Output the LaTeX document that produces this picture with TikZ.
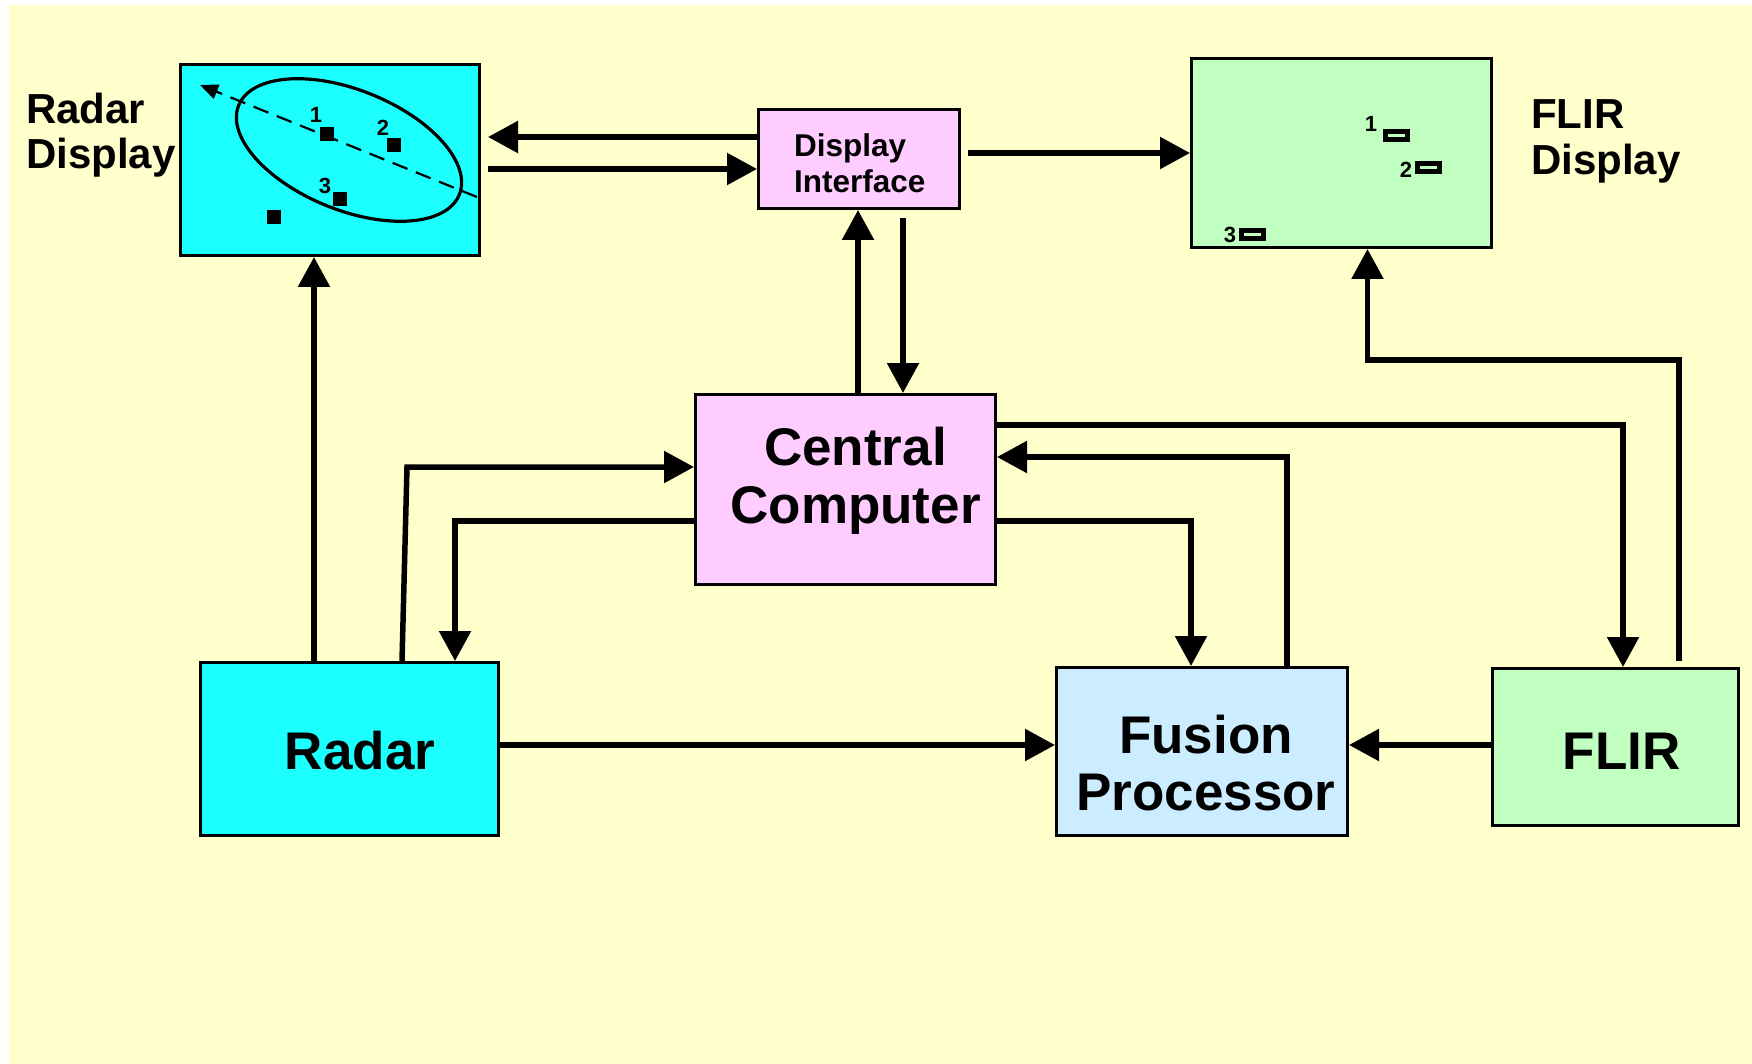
\documentclass[tikz,border=0pt]{standalone}
\usepackage{fontspec}
\setmainfont{Liberation Sans}
\usetikzlibrary{arrows.meta}
\definecolor{bgyellow}{HTML}{FFFFCC}
\definecolor{radarcyan}{HTML}{1CFFFF}
\definecolor{ccpink}{HTML}{FFCCFF}
\definecolor{fusionblue}{HTML}{CCECFF}
\definecolor{flirgreen}{HTML}{C0FFC0}

\begin{document}
\begin{tikzpicture}[x=1pt,y=-1pt,
  box/.style={draw=black, line width=3pt, inner sep=0pt, rectangle},
  arr/.style={line width=5.5pt, -{Triangle[length=30pt,width=31pt]}},
  big/.style={font=\bfseries\fontsize{53}{58}\selectfont, inner sep=0pt},
  mid/.style={font=\bfseries\fontsize{42}{46}\selectfont, inner sep=0pt},
  small/.style={font=\bfseries\fontsize{31.5}{36}\selectfont, inner sep=0pt},
  digit/.style={font=\bfseries\fontsize{22}{24}\selectfont, inner sep=0pt},
  blip/.style={fill=black},
  flirblip/.style={draw=black, fill=flirgreen, line width=5pt},
  track/.style={line width=2.2pt, dash pattern=on 16pt off 9pt, -{Triangle[length=18pt,width=15pt]}},
]
% page and background
\fill[white] (0,0) rectangle (1752,1064);
\fill[bgyellow] (9,5) rectangle (1752,1064);
\useasboundingbox (0,0) rectangle (1752,1064);

% blocks
\node[box, fill=radarcyan,  minimum width=299pt, minimum height=191pt] (rd)  at (330,160) {};
\node[box, fill=ccpink,     minimum width=201pt, minimum height=99pt]  (di)  at (859,159) {};
\node[box, fill=flirgreen,  minimum width=300pt, minimum height=189pt] (fd)  at (1341.5,153) {};
\node[box, fill=ccpink,     minimum width=300pt, minimum height=190pt] (cc)  at (845.5,489.5) {};
\node[box, fill=radarcyan,  minimum width=298pt, minimum height=173pt] (rad) at (349.5,749) {};
\node[box, fill=fusionblue, minimum width=291pt, minimum height=168pt] (fp)  at (1202,751.5) {};
\node[box, fill=flirgreen,  minimum width=246pt, minimum height=157pt] (fl)  at (1615.5,747) {};

% block texts
\node[big, anchor=base] (cc-l1)  at (855.5,465) {Central};
\node[big, anchor=base] (cc-l2)  at (855.5,523) {Computer};
\node[big, anchor=base] (rad-l)  at (360,769) {Radar};
\node[big, anchor=base] (fp-l1)  at (1206,753) {Fusion};
\node[big, anchor=base] (fp-l2)  at (1206,810) {Processor};
\node[big, anchor=base] (fl-l)   at (1621.5,769) {FLIR};
\node[small, anchor=base west] (di-l1) at (794,157) {Display};
\node[small, anchor=base west] (di-l2) at (794,193) {Interface};
\node[mid, anchor=base west] (rd-l1) at (26,124) {Radar};
\node[mid, anchor=base west] (rd-l2) at (26,169) {Display};
\node[mid, anchor=base west] (fd-l1) at (1531,129) {FLIR};
\node[mid, anchor=base west] (fd-l2) at (1531,175) {Display};

% radar scope contents: gate ellipse, track line, plots
\draw[line width=3.2pt, rotate around={-22:(349,150)}] (349,150) ellipse [x radius=119, y radius=60];
\draw[track] (477,197) -- (200,85);
\fill[blip] (320,127) rectangle (334,141);
\fill[blip] (387,138) rectangle (401,152);
\fill[blip] (333,192) rectangle (347,206);
\fill[blip] (267,210) rectangle (281,224);
\node[digit] (rd-d1) at (316,115) {1};
\node[digit] (rd-d2) at (383,128) {2};
\node[digit] (rd-d3) at (325,186) {3};

% FLIR screen contents
\filldraw[flirblip] (1385.5,131.5) rectangle (1407.5,139.5);
\filldraw[flirblip] (1417.5,163.5) rectangle (1439.5,171.5);
\filldraw[flirblip] (1241.5,231) rectangle (1263.5,239);
\node[digit] (fd-d1) at (1371,124) {1};
\node[digit] (fd-d2) at (1406,170) {2};
\node[digit] (fd-d3) at (1230,235) {3};

% helper points
\coordinate (rd-in)   at ([xshift=7pt,yshift=23pt]rd.east);
\coordinate (rd-out)  at ([xshift=7pt,yshift=-9pt]rd.east);
\coordinate (di-out)  at ([xshift=7pt,yshift=6pt]di.east);
\coordinate (di-down) at ([xshift=44pt,yshift=-8pt]di.south);
\coordinate (cc-up)   at ([xshift=12.5pt]cc.north);
\coordinate (rad-up)  at ([xshift=-35.5pt]rad.north);
\coordinate (rad-cc)  at ([xshift=52.5pt]rad.north);
\coordinate (rad-bend) at (407,467);
\coordinate (rad-out) at ([xshift=-3pt,yshift=4pt]rad.east);
\coordinate (fl-w)    at ([yshift=2pt]fl.west);
\coordinate (fl-out)  at ([xshift=63.5pt,yshift=6pt]fl.north);
\coordinate (fd-in)   at ([xshift=26pt]fd.south);
\coordinate (fl-bend) at ([yshift=-111pt]fd-in);

% connectors
\draw[arr] (rad-up) -- (rad-up |- rd.south);
\draw[arr] (rad-cc) -- (rad-bend) -- ([yshift=22.5pt]cc.west);
\draw[arr] ([yshift=-31.5pt]cc.west) -| ([xshift=105.5pt]rad.north);
\draw[arr] (di.west |- rd-in) -- (rd-in);
\draw[arr] (rd-out) -- (rd-out -| di.west);
\draw[arr] (di-out) -- (di-out -| fd.west);
\draw[arr] (cc-up) -- (cc-up |- di.south);
\draw[arr] (di-down) -- (di-down |- cc.north);
\draw[arr] ([yshift=64.5pt]cc.east) -| ([xshift=7.5pt]fl.north);
\draw[arr] ([xshift=85pt]fp.north) |- ([yshift=32.5pt]cc.east);
\draw[arr] ([yshift=-31.5pt]cc.east) -| ([xshift=-11pt]fp.north);
\draw[arr] (fl-out) |- (fl-bend) -- (fd-in);
\draw[arr] (rad-out) -- (rad-out -| fp.west);
\draw[arr] (fl-w) -- (fl-w -| fp.east);
\end{tikzpicture}
\end{document}
